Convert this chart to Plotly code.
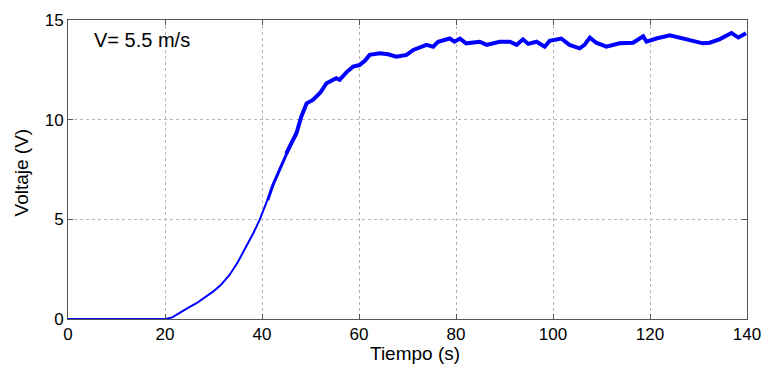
import plotly.graph_objects as go

# Rising part (thin line)
t_rise = [0, 10, 20, 21.5, 23, 25, 26.5, 28, 29.9, 31.5, 33.3, 35, 36.8, 38.2, 39.5, 40.5, 41.2, 42.2, 43.3]
v_rise = [0, 0, 0, 0.08, 0.32, 0.6, 0.79, 1.05, 1.37, 1.7, 2.21, 2.85, 3.63, 4.3, 4.97, 5.6, 5.97, 6.7, 7.31]

# Transition part
t_mid = [41.2, 42.2, 43.3, 44.2, 45.0, 46.0, 47.1]
v_mid = [5.97, 6.7, 7.31, 7.8, 8.31, 8.8, 9.32]

# Plateau part (thick, noisy line)
t_flat = [45.0, 46.0, 47.1, 48.1, 49.2, 50.5, 52.0, 53.3, 55.3, 56.0, 57.5, 58.8, 60.1, 61.2, 62.2, 64.3,
          66.0, 67.7, 69.8, 71.2, 73.9, 75.3, 76.3, 78.7, 79.7, 80.8, 82.1, 84.9, 86.3, 89.0,
          91.1, 92.5, 93.8, 94.9, 96.6, 98.3, 99.3, 101.7, 103.4, 105.5, 106.5, 107.6, 108.9,
          111.0, 113.7, 116.5, 118.6, 119.3, 121.3, 124.1, 126.1, 128.2, 130.9, 132.3, 134.3,
          136.8, 138.2, 139.8]
v_flat = [8.31, 8.8, 9.32, 10.15, 10.82, 10.99, 11.35, 11.83, 12.08, 12.0, 12.4, 12.66, 12.74, 12.95, 13.25, 13.33,
          13.28, 13.16, 13.25, 13.5, 13.75, 13.66, 13.91, 14.07, 13.91, 14.07, 13.83, 13.91, 13.75, 13.91,
          13.91, 13.75, 14.03, 13.8, 13.91, 13.66, 13.96, 14.07, 13.75, 13.58, 13.75, 14.12, 13.86,
          13.66, 13.83, 13.86, 14.18, 13.91, 14.07, 14.23, 14.12, 13.96, 13.83, 13.86, 14.03,
          14.35, 14.12, 14.33]

x_ticks = [0, 20, 40, 60, 80, 100, 120, 140]
y_ticks = [0, 5, 10, 15]
annotation_text = "V= 5.5 m/s"
x_title = "Tiempo (s)"
y_title = "Voltaje (V)"

fig = go.Figure()
fig.add_trace(go.Scatter(x=t_rise, y=v_rise, mode="lines",
                         line=dict(color="#0000ff", width=2), showlegend=False))
fig.add_trace(go.Scatter(x=t_mid, y=v_mid, mode="lines",
                         line=dict(color="#0000ff", width=3), showlegend=False))
fig.add_trace(go.Scatter(x=t_flat, y=v_flat, mode="lines",
                         line=dict(color="#0000ff", width=4), showlegend=False))

font_family = "Liberation Sans, Arial, sans-serif"
axis_common = dict(
    showline=True, linecolor="#555555", linewidth=1, mirror="ticks",
    ticks="inside", ticklen=5, tickcolor="#555555",
    showgrid=True, gridcolor="#b5b5b5", griddash="dot", gridwidth=1,
    zeroline=False, automargin=False, ticklabeloverflow="allow",
    tickfont=dict(family=font_family, size=17, color="black"),
)

fig.update_layout(
    width=766, height=365,
    margin=dict(l=68, r=19, t=20, b=46),
    paper_bgcolor="white", plot_bgcolor="white",
    xaxis=dict(range=[0, 140], tickvals=x_ticks, **axis_common),
    yaxis=dict(range=[0, 15], tickvals=y_ticks, **axis_common),
    annotations=[
        dict(x=4.9, y=14.0, xref="x", yref="y", text=annotation_text, showarrow=False,
             xanchor="left", yanchor="middle",
             font=dict(family=font_family, size=20, color="black")),
        dict(x=71.5, y=0, xref="x", yref="paper", text=x_title, showarrow=False,
             xanchor="center", yanchor="middle", yshift=-34,
             font=dict(family=font_family, size=19, color="black")),
        dict(x=0, y=7.35, xref="paper", yref="y", text=y_title, showarrow=False,
             textangle=-90, xanchor="center", yanchor="middle", xshift=-47,
             font=dict(family=font_family, size=19, color="black")),
    ],
)

# remove the default 8px page margin so the figure fills the window exactly
fig.write_html("out.html", config={"displayModeBar": False},
               post_script="document.body.style.margin='0';document.body.style.overflow='hidden';")
